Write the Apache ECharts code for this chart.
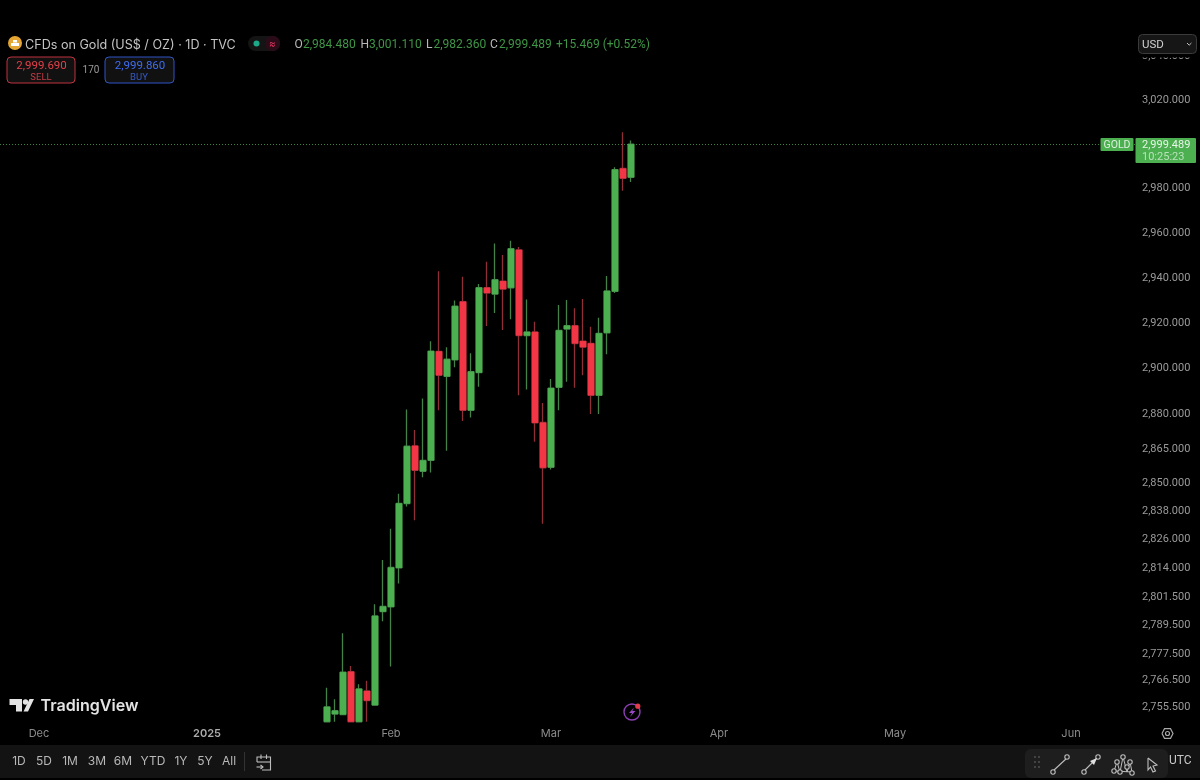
<!DOCTYPE html>
<html><head><meta charset="utf-8"><style>html,body{margin:0;background:#000}#c{width:1200px;height:780px}</style>
<script src="https://cdn.jsdelivr.net/npm/echarts@6/dist/echarts.min.js"></script></head><body><div id="c"></div>
<script>
const categories=["2024-11-26","2024-11-27","2024-11-28","2024-11-29",
"2024-12-02","2024-12-03","2024-12-04","2024-12-05","2024-12-06","2024-12-09","2024-12-10","2024-12-11","2024-12-12","2024-12-13","2024-12-16","2024-12-17","2024-12-18","2024-12-19","2024-12-20","2024-12-23","2024-12-24","2024-12-26","2024-12-27","2024-12-30","2024-12-31",
"2025-01-01","2025-01-02","2025-01-03","2025-01-06","2025-01-07","2025-01-08","2025-01-09","2025-01-10","2025-01-13","2025-01-14","2025-01-15","2025-01-16","2025-01-17","2025-01-20","2025-01-21","2025-01-22","2025-01-23","2025-01-24","2025-01-27","2025-01-28","2025-01-29","2025-01-30","2025-01-31",
"2025-02-03","2025-02-04","2025-02-05","2025-02-06","2025-02-07","2025-02-10","2025-02-11","2025-02-12","2025-02-13","2025-02-14","2025-02-17","2025-02-18","2025-02-19","2025-02-20","2025-02-21","2025-02-24","2025-02-25","2025-02-26","2025-02-27","2025-02-28",
"2025-03-03","2025-03-04","2025-03-05","2025-03-06","2025-03-07","2025-03-10","2025-03-11","2025-03-12","2025-03-13","2025-03-14","2025-03-17","2025-03-18","2025-03-19","2025-03-20","2025-03-21","2025-03-24","2025-03-25","2025-03-26","2025-03-27","2025-03-28","2025-03-31",
"2025-04-01","2025-04-02","2025-04-03","2025-04-04","2025-04-07","2025-04-08","2025-04-09","2025-04-10","2025-04-11","2025-04-14","2025-04-15","2025-04-16","2025-04-17","2025-04-18","2025-04-21","2025-04-22","2025-04-23","2025-04-24","2025-04-25","2025-04-28","2025-04-29","2025-04-30",
"2025-05-01","2025-05-02","2025-05-05","2025-05-06","2025-05-07","2025-05-08","2025-05-09","2025-05-12","2025-05-13","2025-05-14","2025-05-15","2025-05-16","2025-05-19","2025-05-20","2025-05-21","2025-05-22","2025-05-23","2025-05-26","2025-05-27","2025-05-28","2025-05-29","2025-05-30",
"2025-06-02","2025-06-03","2025-06-04","2025-06-05","2025-06-06","2025-06-09","2025-06-10","2025-06-11","2025-06-12"];
const firstCandle="2025-01-22";
const open=[2748.9,2752.1,2751.9,2769.8,2748.9,2761.7,2755.8,2795.0,2797.0,2813.5,2841.0,2865.9,2854.9,2859.6,2907.1,2896.1,2903.3,2929.0,2881.3,2897.7,2935.2,2932.3,2938.1,2935.1,2952.0,2914.0,2915.6,2876.0,2856.6,2891.3,2916.9,2918.4,2911.6,2910.6,2887.8,2915.2,2933.5,2988.5,2984.48];
const high=[2763.1,2758.3,2785.9,2772.1,2764.5,2766.0,2798.1,2816.9,2830.2,2845.2,2881.7,2872.7,2886.4,2911.5,2942.4,2908.9,2929.5,2940.0,2906.2,2936.8,2946.7,2954.8,2949.7,2956.0,2953.2,2929.9,2920.1,2884.5,2894.9,2927.5,2929.7,2926.1,2930.1,2917.9,2921.9,2940.3,2989.0,3004.9,3001.11];
const low=[2748.9,2748.9,2751.9,2748.9,2748.9,2748.9,2755.8,2791.0,2771.9,2806.9,2839.7,2833.8,2852.3,2854.4,2881.3,2863.8,2900.1,2876.6,2878.2,2891.6,2918.2,2923.9,2916.5,2921.2,2887.9,2890.4,2867.6,2832.4,2855.6,2881.3,2893.8,2891.1,2896.6,2879.7,2879.7,2905.8,2932.8,2978.4,2982.36];
const close=[2755.1,2753.5,2769.6,2748.9,2762.6,2757.7,2793.2,2797.2,2813.7,2841.1,2865.7,2855.3,2859.6,2907.2,2896.6,2903.6,2927.0,2881.3,2898.2,2935.2,2932.8,2938.7,2934.5,2952.5,2914.0,2915.6,2875.8,2856.4,2891.0,2916.3,2918.4,2910.5,2908.9,2887.8,2915.0,2933.7,2988.0,2984.0,2999.489];
const priceTicks=[3040,3020,2980,2960,2940,2920,2900,2880,2865,2850,2838,2826,2814,2801.5,2789.5,2777.5,2766.5,2755.5];
const monthLabels={"2024-12-02":"Dec","2025-01-01":"2025","2025-02-03":"Feb","2025-03-03":"Mar","2025-04-01":"Apr","2025-05-01":"May","2025-06-02":"Jun"};
const lastPrice=2999.489;
const ohlcHeader=[["O","2,984.480",294.5,303],["H","3,001.110",360.5,369],["L","2,982.360",426,433.5],["C","2,999.489",490,499]];
const changeText="+15.469 (+0.52%)";
const rangeButtons=[["1D",19],["5D",44],["1M",70],["3M",97],["6M",123],["YTD",153],["1Y",181],["5Y",205],["All",229]];

const UP="#4CAF50",DOWN="#F23645",UPW="#44824A",DOWNW="#8F2F38";
const F="Inter, 'Liberation Sans', sans-serif",N="Roboto, 'Liberation Sans', sans-serif";
const offset=categories.indexOf(firstCandle);
const pad=v=>Array(offset).fill('-').concat(v);
const wickData=pad(open.map((o,i)=>[o,close[i],low[i],high[i]]));
const bodyData=pad(open.map((o,i)=>[o,close[i],Math.min(o,close[i]),Math.max(o,close[i])]));
const fmtP=v=>Number(v).toLocaleString('en-US',{minimumFractionDigits:3,maximumFractionDigits:3});

const T=(text,x,y,size,fill,extra)=>({type:'text',z:50,silent:true,style:Object.assign({text,x,y,font:`${(extra&&extra.w)||400} ${size}px ${(extra&&extra.f)||F}`,fill,textAlign:'left',textVerticalAlign:'middle'},extra||{})});
const R=(x,y,w,h,fill,stroke,r,z)=>({type:'rect',z:z||40,silent:true,shape:{x,y,width:w,height:h,r:r||0},style:{fill,stroke:stroke||null,lineWidth:1}});
const PG=(points,fill)=>({type:'polygon',z:50,silent:true,shape:{points},style:{fill}});
const PL=(points,stroke,lw)=>({type:'polyline',z:50,silent:true,shape:{points},style:{stroke,fill:null,lineWidth:lw||1.1}});
const C=(cx,cy,r,fill,stroke,lw)=>({type:'circle',z:50,silent:true,shape:{cx,cy,r},style:{fill:fill||null,stroke:stroke||null,lineWidth:lw||1}});
const L=(x1,y1,x2,y2,stroke,lw)=>({type:'line',z:50,silent:true,shape:{x1,y1,x2,y2},style:{stroke,lineWidth:lw||1.2}});

const gfx=[
 R(1138,40,62,17.5,'#000',null,0,38),
 R(0,745,1200,33,'#131313'),
 C(15,43,7,'#E5A533'),R(11,43,8,3,'#fff',null,0,51),R(13,40,4,2.5,'#fff',null,0,51),
 T("CFDs on Gold (US$ / OZ) · 1D · TVC",25,45,12.6,'#C4C4C4'),
 R(248,36,32,15,'#141414',null,7.5),
 C(256.5,43.5,3,'#1FA78A'),R(265,36,15,15,'#2A0B18',null,7),T("≈",269,43.5,10,'#E0355F'),
 R(7,57,68,26,'#111','#C0353F',4),T("2,999.690",41.5,66,11.5,'#E2404A',{textAlign:'center',f:N}),T("SELL",41,77.5,9.5,'#C23C45',{textAlign:'center',f:N}),
 T("170",91,70.5,10,'#9A9A9A',{textAlign:'center',f:N}),
 R(105,57,69,26,'#111','#2F55C8',4),T("2,999.860",140,66,11.5,'#3F6DEE',{textAlign:'center',f:N}),T("BUY",139,77.5,9.5,'#3659C2',{textAlign:'center',f:N}),
 R(1138.5,34.5,58,19,'#161616','#3A3A3A',4),T("USD",1142,45,11.5,'#D0D0D0',{f:N}),PL([[1187,43],[1189.2,45.2],[1191.4,43]],'#C0C0C0',1),
 R(1100.5,138,33,13,UP,null,1,41),T("GOLD",1117,145.5,10.5,'#DDF0DD',{textAlign:'center',f:N}),
 R(1135.5,138,60.5,25,UP,null,1,41),T("2,999.489",1142,145,11,'#E8F5E8',{f:N}),T("10:25:23",1142,157,11,'#B8E2BA',{f:N}),
 PG([[9.5,699],[22,699],[22,711.5],[16,711.5],[16,705],[9.5,705]],'#E4E4E4'),C(25.5,702,2.7,'#E4E4E4'),PG([[29.5,699],[34,699],[28,711.5],[23.5,711.5]],'#E4E4E4'),
 T("TradingView",40.5,706.5,16.1,'#E4E4E4',{w:600}),
 C(632,712,8,null,'#8B3FB0',1.4),PG([[634,707.5],[629,713],[632,713],[630,717],[635.5,711],[632.3,711]],'#9B48C4'),C(637.8,706.2,2.6,'#E23B4A'),
 PL([[1162,733.5],[1164.5,728.7],[1170.5,728.7],[1173,733.5],[1170.5,738.3],[1164.5,738.3],[1162,733.5]],'#A8A8A8',1.2),C(1167.5,733.5,2,null,'#A8A8A8',1.2),
 L(244.5,752,244.5,771,'#333',1),
 PL([[257,762],[257,757],[270.5,757],[270.5,770],[262,770]],'#BDBDBD'),L(257,762,270.5,762,'#BDBDBD',1.1),L(261,754.5,261,759,'#BDBDBD',1.1),L(266.5,754.5,266.5,759,'#BDBDBD',1.1),
 L(256.5,767,263,767,'#BDBDBD',1.1),PL([[260.5,765],[263,767],[260.5,769]],'#BDBDBD'),
 T("UTC",1169,761,12,'#C8C8C8',{f:N}),
 R(1025,749,143,29,'#1E1E1E',null,6,45),
];
rangeButtons.forEach(b=>gfx.push(T(b[0],b[1],761,12,'#B8B8B8',{textAlign:'center'})));
ohlcHeader.forEach(h=>{gfx.push(T(h[0],h[2],45,12,'#B8B8B8',{f:N}));gfx.push(T(h[1],h[3],45,12,'#3F9646',{f:N}));});
gfx.push(T(changeText,556,45,12,'#3F9646',{f:N}));
[[1035,757],[1039,757],[1035,762],[1039,762],[1035,767],[1039,767]].forEach(p=>gfx.push(C(p[0],p[1],.9,'#555')));
const node=(x,y)=>C(x,y,2.2,'#1E1E1E','#BDBDBD',1.1);
gfx.push(L(1053,771,1067,758,'#BDBDBD',1.1),node(1053,772),node(1067,757));
gfx.push(L(1084,771,1097,758,'#BDBDBD',1.1),node(1084,772),node(1098,757),PG([[1090,761],[1097,758],[1094,765]],'#E0E0E0'));
gfx.push(PL([[1114,771],[1117,762],[1120,772],[1123,757],[1127,772],[1130,762],[1132,772],[1114,771]],'#BDBDBD',1),node(1114,771),node(1117,762),node(1120,772),node(1123,757),node(1127,767),node(1130,762),node(1132,773));
gfx.push(PL([[1148,758],[1157,765],[1153,766],[1155.5,771],[1153,772],[1150.5,767],[1148,770],[1148,758]],'#BDBDBD'));

const chart=echarts.init(document.getElementById('c'),null,{renderer:'canvas'});
chart.setOption({
 animation:false,backgroundColor:'#000',
 grid:{left:3,right:61,top:0,bottom:58,containLabel:false},
 xAxis:{type:'category',data:categories,boundaryGap:true,axisLine:{show:false},axisTick:{show:false},splitLine:{show:false},
  axisLabel:{margin:6,interval:(i,v)=>!!monthLabels[v],hideOverlap:false,formatter:v=>monthLabels[v]==='2025'?'{b|2025}':(monthLabels[v]||''),color:'#8C8C8C',fontFamily:F,fontSize:11,rich:{b:{color:'#ABABAB',fontWeight:600,fontFamily:F,fontSize:11}}}},
 yAxis:{type:'log',logBase:10,position:'right',min:2748.8,max:3065.5,axisLine:{show:false},axisTick:{show:false},splitLine:{show:false},minorTick:{show:false},
  axisLabel:{customValues:priceTicks,margin:3,formatter:v=>'{p|'+fmtP(v)+'}',align:'left',rich:{p:{color:'#9A9A9A',fontFamily:N,fontSize:11,padding:[2,0,0,0]}}}},
 series:[
  {type:'candlestick',name:'wick',data:wickData,barWidth:5,z:2,itemStyle:{color:UPW,color0:DOWNW,borderColor:UPW,borderColor0:DOWNW,borderWidth:1.3},
   markLine:{silent:true,symbol:'none',label:{show:false},lineStyle:{color:'#4CAF50',type:[1,2],width:1,opacity:.75},data:[[{x:0,yAxis:lastPrice},{x:1136,yAxis:lastPrice}]]}},
  {type:'candlestick',name:'body',data:bodyData,barWidth:7,z:3,itemStyle:{color:UP,color0:DOWN,borderColor:UP,borderColor0:DOWN,borderWidth:0}}
 ],
 graphic:{elements:gfx}
});
</script></body></html>
